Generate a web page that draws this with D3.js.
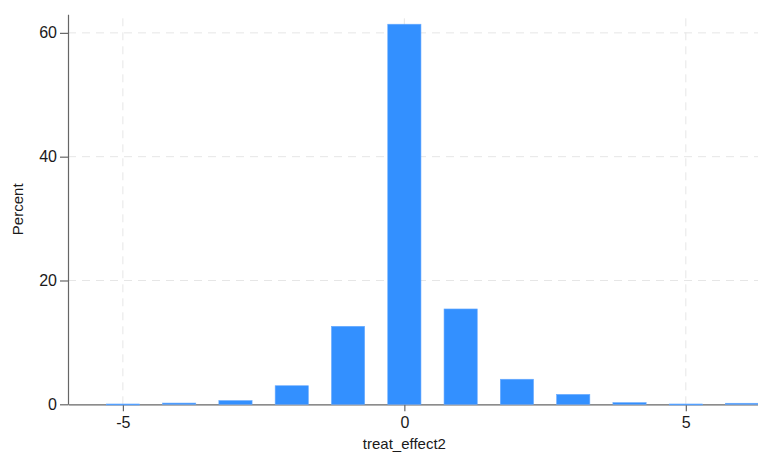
<!DOCTYPE html>
<html>
<head>
<meta charset="utf-8">
<script src="https://cdn.jsdelivr.net/npm/d3@7"></script>
<style>
  html, body { margin: 0; padding: 0; background: #fff; }
  svg { display: block; }
  text { font-family: "Liberation Sans", Arial, sans-serif; fill: #1a1a1a; }
</style>
</head>
<body>
<svg id="chart" width="758" height="454"></svg>
<script>
// Histogram of treat_effect2 (percent of observations per integer value)
const effectValues = [-5, -4, -3, -2, -1, 0, 1, 2, 3, 4, 5, 6];
const percentValues = [0.05, 0.2, 0.6, 3.0, 12.6, 61.4, 15.4, 4.05, 1.6, 0.27, 0.05, 0.17];
const xTickValues = [-5, 0, 5];
const yTickValues = [0, 20, 40, 60];
const xTitle = "treat_effect2";
const yTitle = "Percent";

const svg = d3.select("#chart");

const x = d3.scaleLinear().domain([-5.975, 6.3]).range([68, 759]);
const y = d3.scaleLinear().domain([0, 63]).range([404.3, 14.3]);
const barWidth = 0.59;

// grid lines
const grid = svg.append("g")
  .attr("stroke", "#e6e6e6")
  .attr("stroke-width", 1)
  .attr("stroke-dasharray", "8,6");
grid.selectAll("line.h").data(yTickValues.filter(d => d > 0)).join("line")
  .attr("class", "h")
  .attr("x1", x.range()[0]).attr("x2", x.range()[1])
  .attr("y1", d => y(d)).attr("y2", d => y(d));
grid.selectAll("line.v").data(xTickValues).join("line")
  .attr("class", "v")
  .attr("x1", d => x(d)).attr("x2", d => x(d))
  .attr("y1", y.range()[0]).attr("y2", y.range()[1]);

// axes
const xAxis = svg.append("g")
  .attr("transform", `translate(0,${y(0)})`)
  .call(d3.axisBottom(x).tickValues(xTickValues).tickSize(7).tickPadding(5).tickSizeOuter(0)
    .tickFormat(d => d < 0 ? "-" + Math.abs(d) : d));
const yAxis = svg.append("g")
  .attr("transform", `translate(${x.range()[0]},0)`)
  .call(d3.axisLeft(y).tickValues(yTickValues).tickSize(8).tickPadding(3).tickSizeOuter(0));

[xAxis, yAxis].forEach(a => {
  a.select(".domain").attr("stroke", "#666").attr("stroke-width", 1.2);
  a.selectAll(".tick line").attr("stroke", "#666").attr("stroke-width", 1.2);
  a.selectAll(".tick text")
    .style("font-family", "'Liberation Sans', Arial, sans-serif")
    .style("font-size", "16px").attr("fill", "#1a1a1a");
});

// bars
const data = effectValues.map((v, i) => ({ v, p: percentValues[i] }));
svg.append("g").selectAll("rect").data(data).join("rect")
  .attr("x", d => x(d.v - barWidth / 2))
  .attr("width", d => x(d.v + barWidth / 2) - x(d.v - barWidth / 2))
  .attr("y", d => y(d.p))
  .attr("height", d => Math.max(1, y(0) - y(d.p)))
  .attr("fill", "#3390ff")
  .attr("stroke", "#6aabff")
  .attr("stroke-width", 0.6);

// axis titles
svg.append("text")
  .attr("x", x(0)).attr("y", 449)
  .attr("text-anchor", "middle")
  .style("font-size", "15px")
  .text(xTitle);
svg.append("text")
  .attr("transform", `translate(23,${(y.range()[0] + y.range()[1]) / 2}) rotate(-90)`)
  .attr("text-anchor", "middle")
  .style("font-size", "15px")
  .text(yTitle);
</script>
</body>
</html>
